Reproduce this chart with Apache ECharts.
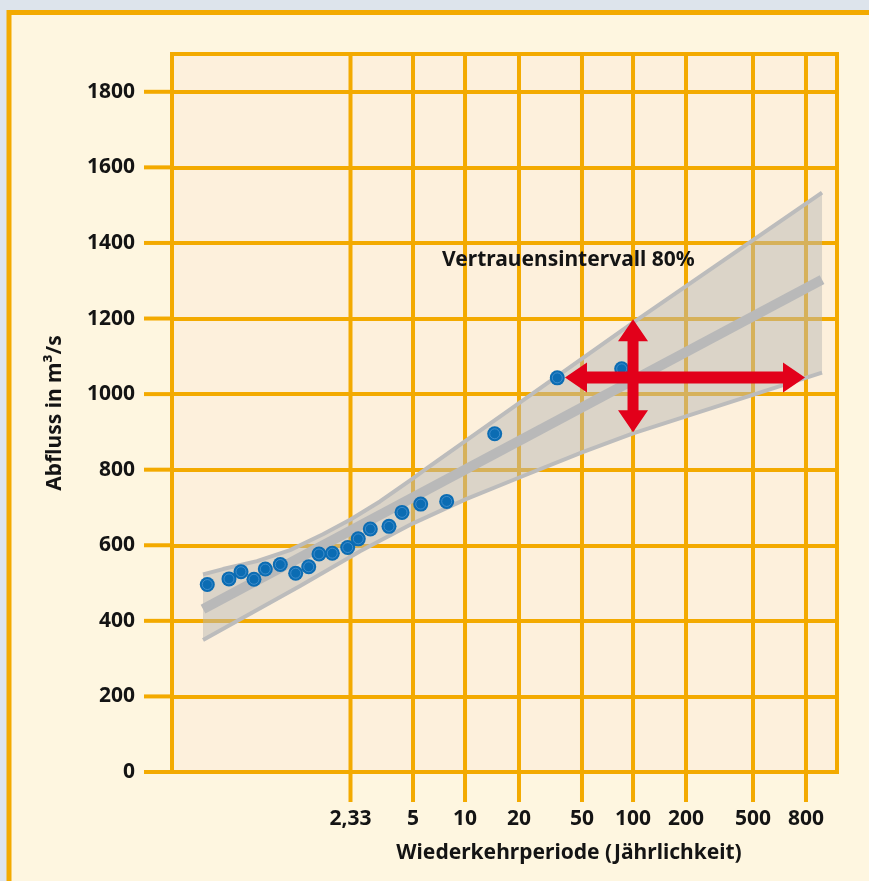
<!DOCTYPE html>
<html><head><meta charset="utf-8">
<script src="https://cdn.jsdelivr.net/npm/echarts@6/dist/echarts.min.js"></script>
<style>html,body{margin:0;padding:0;background:#dde4ec}#c{width:869px;height:881px}</style>
</head><body><div id="c"></div>
<script>
// x axis: Gumbel-type probability scale (reduced variate units)
const tickLabels = ['2,33', '5', '10', '20', '50', '100', '200', '500', '800'];
const tickPos = [0.578, 1.471, 2.214, 2.985, 3.885, 4.614, 5.371, 6.328, 7.085];
const yTicks = [0, 200, 400, 600, 800, 1000, 1200, 1400, 1600, 1800];

// observed annual floods
const obsX = [-1.468, -1.158, -0.986, -0.801, -0.639, -0.425, -0.205, -0.019, 0.128, 0.318,
              0.538, 0.689, 0.861, 1.128, 1.314, 1.581, 1.952, 2.638, 3.532, 4.452];
const obsY = [496, 511, 530, 510, 537, 549, 526, 543, 577, 579,
              594, 617, 643, 650, 687, 709, 716, 895, 1043, 1067];

// 80% confidence band
const upperX = [-1.529, -1.243, -0.758, -0.286, 0.185, 0.585, 0.999, 1.471, 1.671, 4.614, 7.314];
const upperY = [523, 537, 558, 587, 629, 669, 716, 777, 804, 1189, 1533];
const lowerX = [-1.529, -0.143, 0.714, 1.471, 2.228, 2.999, 3.885, 4.614, 7.314];
const lowerY = [349, 492, 584, 658, 722, 780, 846, 896, 1057];

// fitted distribution line
const fitX = [-1.529, 7.314];
const fitY = [431, 1303];

// arrows (from -> to)
const arrowFromX = [3.642, 4.614];
const arrowFromY = [1044, 1198];
const arrowToX = [7.071, 4.614];
const arrowToY = [1044, 899];

const ORANGE = '#f3aa00';
const FONT = 'Noto Sans';

const zip = (a, b) => a.map((v, i) => [v, b[i]]);

const chart = echarts.init(document.getElementById('c'));

// vertical grid lines plus the outward tick below the x axis
function vGrid(params, api) {
  const x = api.coord([api.value(0), 0])[0];
  const cs = params.coordSys;
  return {type: 'line', shape: {x1: x, y1: cs.y, x2: x, y2: cs.y + cs.height + 30},
          style: {stroke: ORANGE, lineWidth: 4}};
}
// outward ticks left of the y axis
function yTick(params, api) {
  const y = api.coord([0, api.value(1)])[1];
  const cs = params.coordSys;
  return {type: 'line', shape: {x1: cs.x - 28, y1: y, x2: cs.x, y2: y},
          style: {stroke: ORANGE, lineWidth: 4}};
}

function band(params, api) {
  if (params.dataIndex !== 0) return null;
  const pts = [];
  for (let i = 0; i < upperX.length; i++) pts.push(api.coord([upperX[i], upperY[i]]));
  for (let i = lowerX.length - 1; i >= 0; i--) pts.push(api.coord([lowerX[i], lowerY[i]]));
  return {type: 'polygon', shape: {points: pts}, style: {fill: 'rgba(186,184,180,0.5)'}};
}

function arrow(params, api) {
  const p1 = api.coord([api.value(0), api.value(1)]);
  const p2 = api.coord([api.value(2), api.value(3)]);
  const dx = p2[0] - p1[0], dy = p2[1] - p1[1];
  const L = Math.hypot(dx, dy);
  const ux = dx / L, uy = dy / L, nx = -uy, ny = ux;
  const hl = 22, hw = 15, sw = params.dataIndex === 0 ? 6 : 5.5;
  const P = (b, a, n) => [b[0] + ux * a + nx * n, b[1] + uy * a + ny * n];
  const pts = [
    p1, P(p1, hl, hw), P(p1, hl, sw), P(p2, -hl, sw), P(p2, -hl, hw), p2,
    P(p2, -hl, -hw), P(p2, -hl, -sw), P(p1, hl, -sw), P(p1, hl, -hw)
  ];
  return {type: 'polygon', shape: {points: pts}, style: {fill: '#e2001a'}};
}

const labelStyle = {color: '#141414', fontFamily: FONT, fontWeight: 'bold', fontSize: 21};

chart.setOption({
  animation: false,
  backgroundColor: '#dde4ec',
  graphic: [
    {type: 'rect', z: -100, shape: {x: 9, y: 12.5, width: 900, height: 900},
     style: {fill: '#fef6e0', stroke: ORANGE, lineWidth: 5}},
    {type: 'text', z: 100, x: 569, y: 853,
     style: {text: 'Wiederkehrperiode (Jährlichkeit)', fill: '#141414', font: 'bold 21px "Noto Sans"',
             textAlign: 'center', textVerticalAlign: 'middle'}},
    {type: 'text', z: 100, x: 442, y: 260,
     style: {text: 'Vertrauensintervall 80%', fill: '#141414', font: 'bold 21px "Noto Sans"',
             textAlign: 'left', textVerticalAlign: 'middle'}}
  ],
  grid: {left: 172, right: 32, top: 54, bottom: 109, show: true,
         backgroundColor: '#fdf0dc', borderColor: ORANGE, borderWidth: 4},
  xAxis: {
    type: 'value', min: -1.972, max: 7.528,
    axisLine: {show: false, onZero: false},
    splitLine: {show: false},
    axisTick: {show: false},
    axisLabel: {
      customValues: tickPos, margin: 37, ...labelStyle,
      formatter: v => {
        let best = 0;
        tickPos.forEach((t, i) => { if (Math.abs(t - v) < Math.abs(tickPos[best] - v)) best = i; });
        return tickLabels[best];
      }
    }
  },
  yAxis: {
    type: 'value', min: 0, max: 1900, interval: 200,
    name: 'Abfluss in m³/s', nameLocation: 'middle', nameRotate: 90, nameGap: 106,
    nameTextStyle: {...labelStyle},
    axisLine: {show: false, onZero: false},
    axisTick: {show: false},
    axisLabel: {customValues: yTicks, margin: 37, ...labelStyle, formatter: v => String(Math.round(v))},
    splitLine: {show: true, lineStyle: {color: ORANGE, width: 4}}
  },
  series: [
    {type: 'custom', z: 1, silent: true, clip: false, renderItem: vGrid, data: tickPos.map(v => [v, 0])},
    {type: 'custom', z: 1, silent: true, clip: false, renderItem: yTick, data: yTicks.map(v => [0, v])},
    {type: 'custom', z: 2, silent: true, renderItem: band, data: [[upperX[0], upperY[0]]]},
    {type: 'line', z: 3, silent: true, data: zip(upperX, upperY), symbol: 'none',
     lineStyle: {color: '#bcbcbc', width: 4}},
    {type: 'line', z: 3, silent: true, data: zip(lowerX, lowerY), symbol: 'none',
     lineStyle: {color: '#bcbcbc', width: 4}},
    {type: 'line', z: 3, silent: true, data: zip(fitX, fitY), symbol: 'none',
     lineStyle: {color: '#b9b9b9', width: 10, cap: 'butt'}},
    {type: 'scatter', z: 4, silent: true, data: zip(obsX, obsY), symbol: 'circle', symbolSize: 15,
     itemStyle: {color: '#0b6cb3', opacity: 1}},
    {type: 'scatter', z: 4, silent: true, data: zip(obsX, obsY), symbol: 'circle', symbolSize: 10,
     itemStyle: {color: 'rgba(0,0,0,0)', borderColor: '#4a94d0', borderWidth: 0.8, opacity: 1}},
    {type: 'custom', z: 5, silent: true, renderItem: arrow,
     encode: {x: [0, 2], y: [1, 3]},
     data: arrowFromX.map((v, i) => [v, arrowFromY[i], arrowToX[i], arrowToY[i]])}
  ]
});
</script></body></html>
